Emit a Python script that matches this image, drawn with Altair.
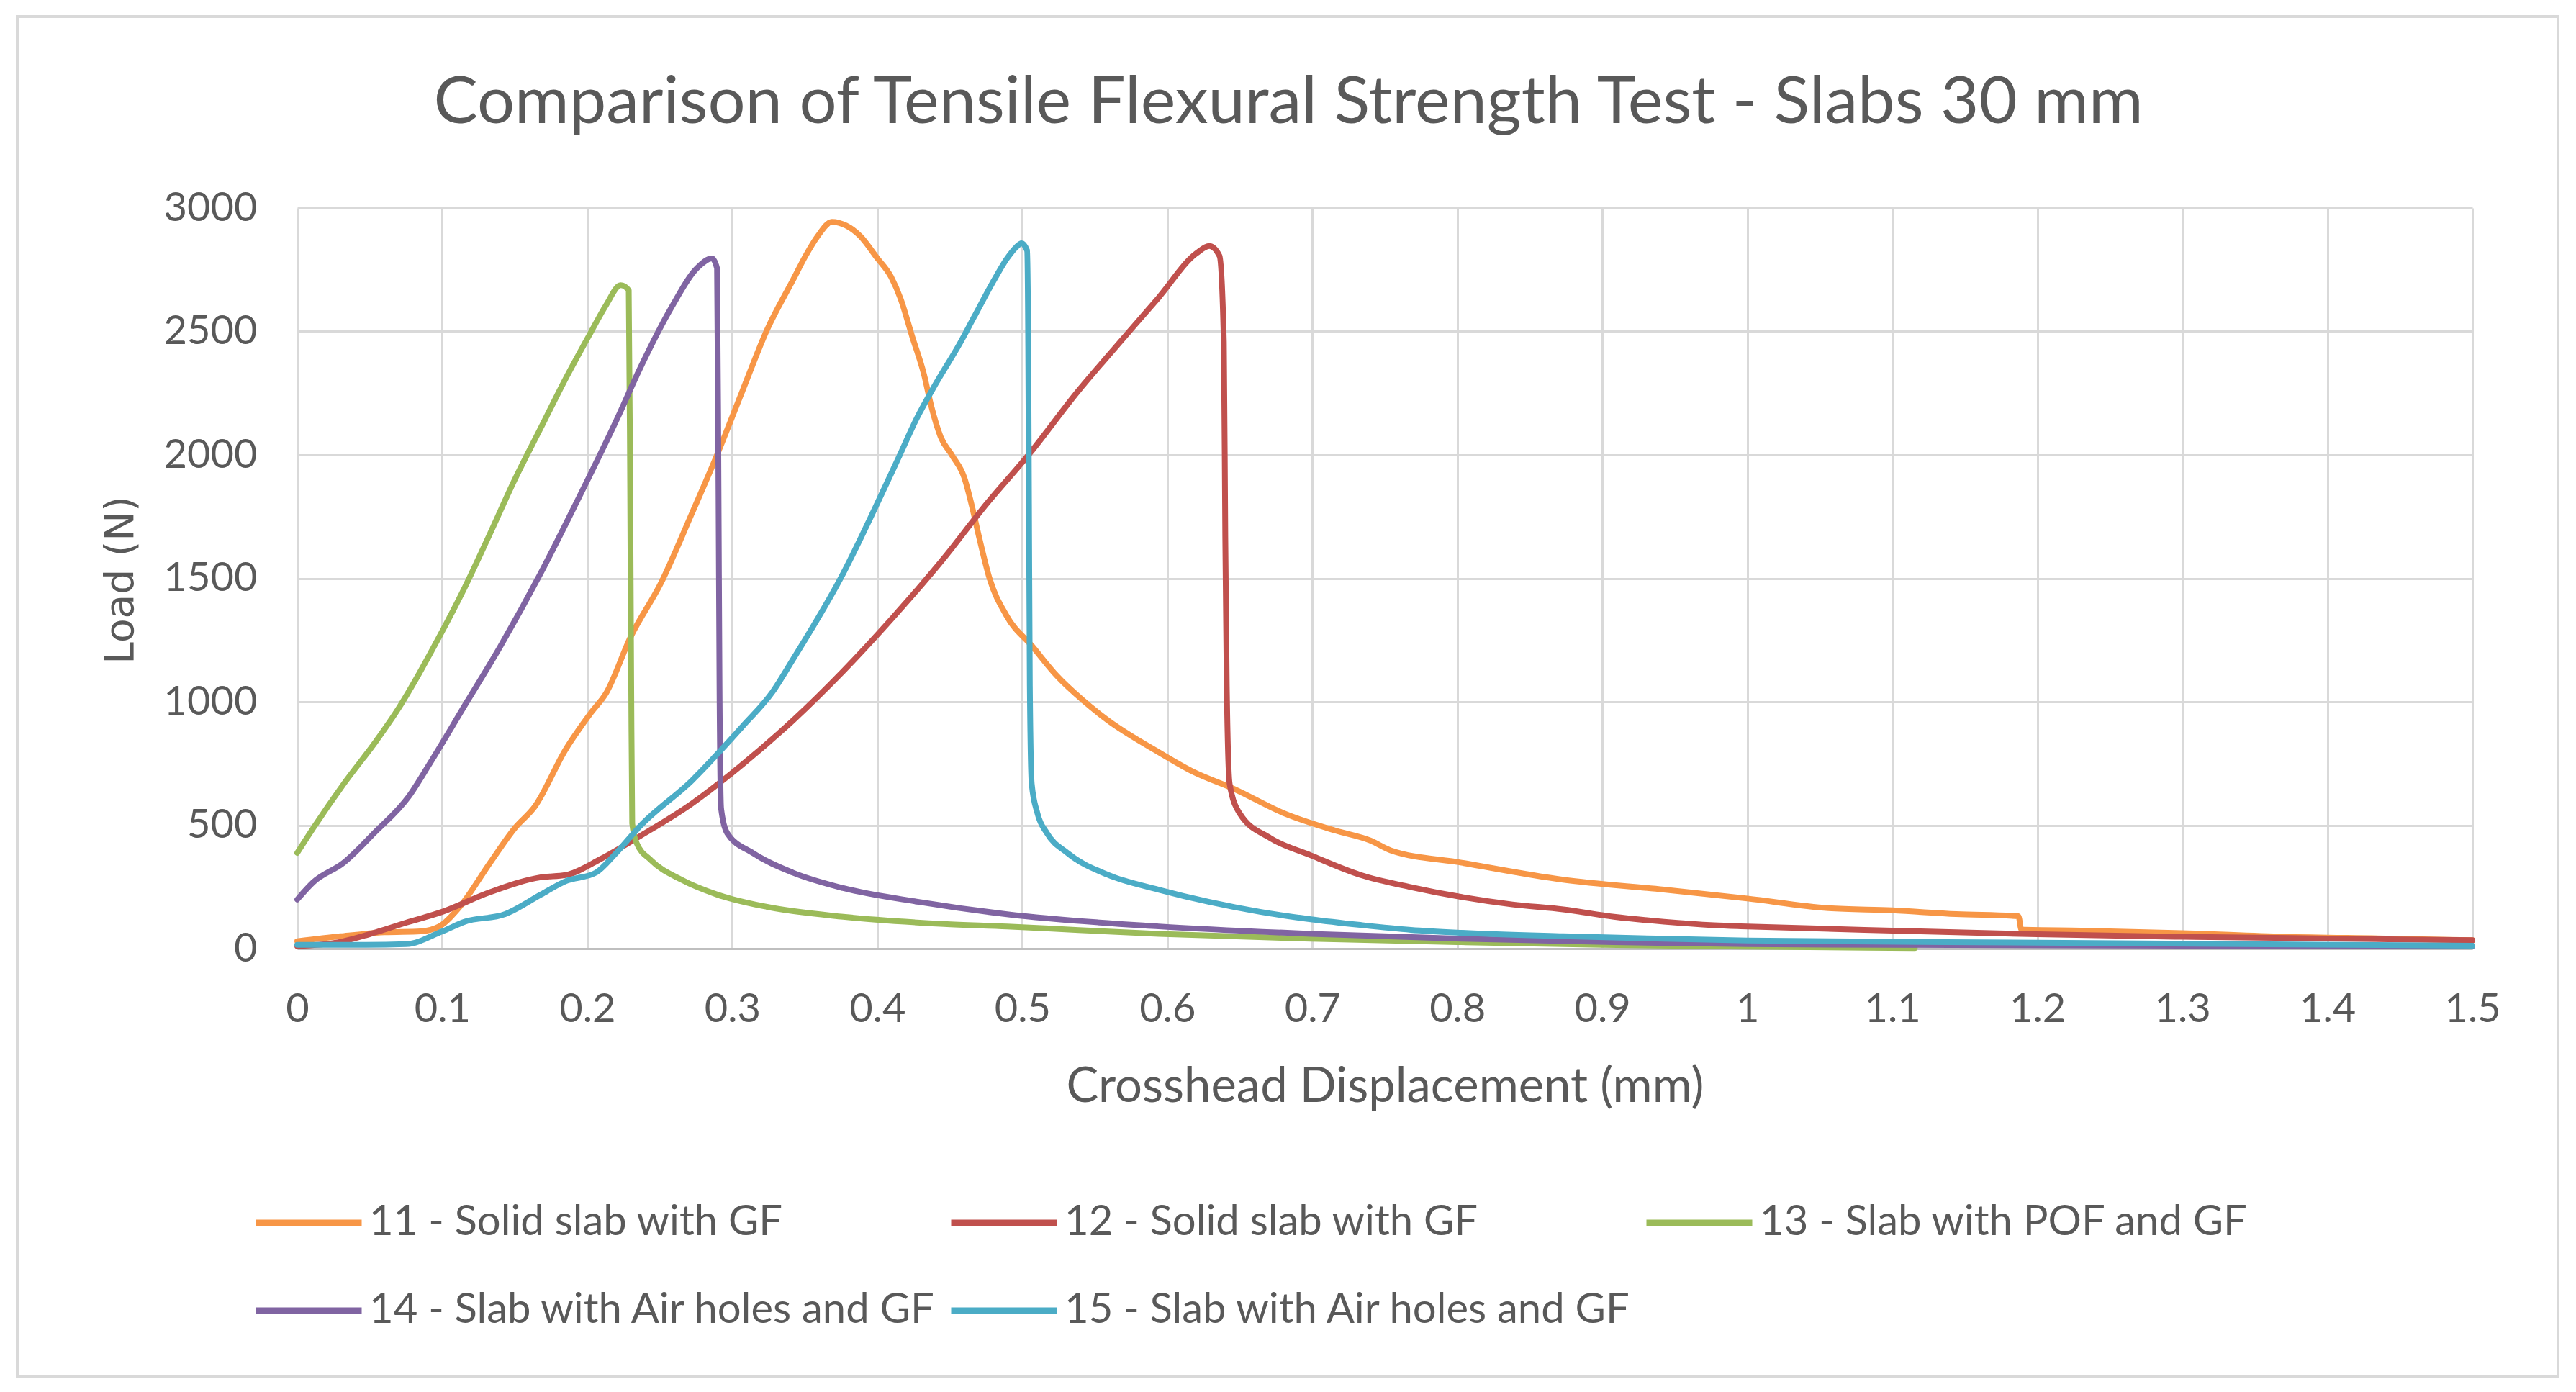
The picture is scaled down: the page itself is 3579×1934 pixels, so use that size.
import altair as alt
import pandas as pd

# series names and colours (Excel 2007 palette)
names = [
    "11 - Solid slab with GF",
    "12 - Solid slab with GF",
    "13 - Slab with POF and GF",
    "14 - Slab with Air holes and GF",
    "15 - Slab with Air holes and GF",
]
colors = ["#F79646", "#C0504D", "#9BBB59", "#8064A2", "#4BACC6"]

# crosshead displacement (mm) / load (N)
s11_x = [0, 0.03, 0.06, 0.085, 0.098, 0.112, 0.133, 0.15, 0.164, 0.185,
         0.2025, 0.213, 0.23, 0.251, 0.272, 0.2895, 0.307, 0.324, 0.342, 0.3507,
         0.3589, 0.3687, 0.3785, 0.3883, 0.3997, 0.4095, 0.416, 0.4241, 0.4323, 0.4372,
         0.4437, 0.4519, 0.46, 0.4649, 0.4704, 0.4774, 0.489, 0.507, 0.524, 0.542,
         0.559, 0.594, 0.618, 0.646, 0.681, 0.716, 0.74, 0.754, 0.803, 0.873,
         0.9425, 1.0, 1.056, 1.1, 1.144, 1.187, 1.189, 1.23, 1.3, 1.37,
         1.44, 1.5]
s11_y = [30, 50, 66, 70, 90, 169, 348, 488, 577, 806,
         955, 1035, 1264, 1483, 1761, 2000, 2259, 2507, 2710, 2808,
         2886, 2944, 2929, 2886, 2799, 2721, 2634, 2479, 2324, 2198,
         2073, 1995, 1908, 1802, 1662, 1500, 1350, 1224, 1104, 1005,
         925, 796, 716, 647, 547, 478, 438, 398, 348, 279,
         239, 203, 164, 155, 140, 131, 77, 73, 63, 48,
         41, 34]

s12_x = [0, 0.0285, 0.0546, 0.075, 0.1, 0.133, 0.168, 0.185, 0.2095, 0.237,
         0.272, 0.307, 0.342, 0.3765, 0.411, 0.446, 0.4731, 0.5057, 0.5383, 0.559,
         0.594, 0.62, 0.629, 0.636, 0.639, 0.64, 0.641, 0.643, 0.65, 0.671,
         0.699, 0.733, 0.768, 0.803, 0.838, 0.873, 0.908, 0.9425, 0.977, 1.0,
         1.1, 1.2, 1.3, 1.4, 1.5]
s12_y = [10, 26, 67, 105, 149, 229, 289, 298, 364, 458,
         587, 746, 925, 1124, 1343, 1582, 1785, 2010, 2257, 2400,
         2637, 2816, 2846, 2806, 2458, 1662, 1065, 667, 547, 448,
         378, 299, 249, 209, 179, 159, 129, 109, 95, 90,
         73, 58, 48, 41, 34]

s13_x = [0, 0.011, 0.032, 0.055, 0.07, 0.084, 0.098, 0.1155, 0.133, 0.15,
         0.168, 0.185, 0.2025, 0.213, 0.223, 0.2286, 0.2296, 0.2303, 0.231, 0.234,
         0.244, 0.265, 0.2895, 0.324, 0.3765, 0.446, 0.4895, 0.539, 0.594, 0.699,
         0.803, 0.9, 1.0, 1.1155]
s13_y = [388, 488, 667, 846, 975, 1114, 1264, 1463, 1682, 1900,
         2110, 2308, 2497, 2607, 2687, 2667, 1861, 1065, 507, 428,
         358, 279, 219, 169, 129, 100, 90, 75, 60, 40,
         26, 15, 8, 2]

s14_x = [0, 0.011, 0.032, 0.053, 0.077, 0.091, 0.1155, 0.14, 0.168, 0.192,
         0.22, 0.237, 0.258, 0.2756, 0.286, 0.2895, 0.2905, 0.2912, 0.2923, 0.2965,
         0.314, 0.3417, 0.3765, 0.4287, 0.4895, 0.594, 0.699, 0.803, 0.9077, 1.0,
         1.1, 1.3, 1.5]
s14_y = [199, 269, 348, 468, 617, 746, 985, 1224, 1522, 1801,
         2139, 2358, 2597, 2756, 2796, 2756, 1861, 1065, 567, 468,
         388, 308, 245, 189, 139, 90, 60, 40, 26, 18,
         15, 12, 10]

s15_x = [0, 0.046, 0.075, 0.1, 0.1155, 0.1434, 0.168, 0.185, 0.206, 0.22,
         0.237, 0.272, 0.307, 0.3278, 0.3417, 0.3765, 0.3989, 0.4144, 0.4274, 0.4405,
         0.4568, 0.4666, 0.4812, 0.4894, 0.4959, 0.4995, 0.5033, 0.5041, 0.5046, 0.5052,
         0.5065, 0.5105, 0.517, 0.531, 0.559, 0.594, 0.629, 0.664, 0.699, 0.733,
         0.768, 0.803, 0.873, 0.9425, 1.0, 1.2, 1.5]
s15_y = [15, 15, 18, 70, 109, 140, 219, 273, 308, 388,
         500, 680, 900, 1040, 1170, 1520, 1790, 1985, 2150, 2290,
         2450, 2557, 2715, 2795, 2842, 2857, 2828, 2440, 1802, 1065,
         667, 547, 468, 388, 299, 239, 189, 149, 119, 96,
         76, 64, 50, 40, 33, 24, 12]

x_ticks = [0, 0.1, 0.2, 0.3, 0.4, 0.5, 0.6, 0.7, 0.8, 0.9, 1.0, 1.1, 1.2, 1.3, 1.4, 1.5]
y_ticks = [0, 500, 1000, 1500, 2000, 2500, 3000]

rows = []
for name, xs, ys in zip(names, [s11_x, s12_x, s13_x, s14_x, s15_x],
                        [s11_y, s12_y, s13_y, s14_y, s15_y]):
    for i, (xv, yv) in enumerate(zip(xs, ys)):
        rows.append({"series": name, "disp": xv, "load": yv, "i": i})
df = pd.DataFrame(rows)

TXT = "#595959"
GRID = "#d9d9d9"
W, H = 3022, 1029

lines = alt.Chart(df).mark_line(strokeWidth=8, strokeJoin="round",
                                strokeCap="round", interpolate="monotone").encode(
    x=alt.X("disp:Q",
            scale=alt.Scale(domain=[0, 1.5], nice=False, zero=False),
            axis=alt.Axis(values=x_ticks, format=".1~f",
                          title="Crosshead Displacement (mm)",
                          titleFont="Lato", titleFontSize=67, titleFontWeight="normal",
                          titleColor=TXT, titleX=W / 2, titleY=212,
                          titleBaseline="alphabetic",
                          labelFont="Lato", labelFontSize=56, labelColor=TXT,
                          labelPadding=57, labelFlush=False, labelOverlap=False,
                          ticks=False, tickSize=0,
                          domainColor="#bfbfbf", domainWidth=3,
                          gridColor=GRID, gridWidth=3)),
    y=alt.Y("load:Q",
            scale=alt.Scale(domain=[0, 3000], nice=False),
            axis=alt.Axis(values=y_ticks, format="d", title="Load (N)",
                          titleFont="DejaVu Sans", titleFontSize=55,
                          titleFontWeight="normal", titleColor=TXT,
                          titleX=-229, titleY=H / 2 + 2, titleBaseline="alphabetic",
                          labelFont="Lato", labelFontSize=56, labelColor=TXT,
                          labelPadding=56, labelFlush=False,
                          ticks=False, tickSize=0, domain=False,
                          gridColor=GRID, gridWidth=3)),
    color=alt.Color("series:N",
                    scale=alt.Scale(domain=names, range=colors),
                    legend=alt.Legend(title=None, orient="none",
                                      legendX=-62, legendY=1332,
                                      direction="horizontal", columns=3,
                                      symbolType="stroke", symbolStrokeWidth=9,
                                      symbolSize=21609,
                                      labelFont="Lato", labelFontSize=58,
                                      labelColor=TXT, labelOffset=6,
                                      labelLimit=2000,
                                      columnPadding=0, rowPadding=15)),
    order=alt.Order("i:Q"),
)

# light grey frame round the whole chart, as in the Excel export
frame = alt.Chart(pd.DataFrame({"f": [0]})).mark_rect(
    filled=False, stroke=GRID, strokeWidth=4, clip=False
).encode(
    x=alt.value(-389), x2=alt.value(3141),
    y=alt.value(-266), y2=alt.value(1624),
)

chart = alt.layer(frame, lines).properties(
    width=W,
    height=H,
    autosize=alt.AutoSizeParams(type="none"),
    padding={"left": 405, "top": 281, "right": 130, "bottom": 600},
    title=alt.Title("Comparison of Tensile Flexural Strength Test - Slabs 30 mm",
                    font="Lato", fontSize=92, fontWeight="normal", color=TXT,
                    anchor="middle", dx=-134, dy=173),
).configure_view(
    strokeWidth=0
)

chart.save("out.html", embed_options={"renderer": "svg", "actions": False})
